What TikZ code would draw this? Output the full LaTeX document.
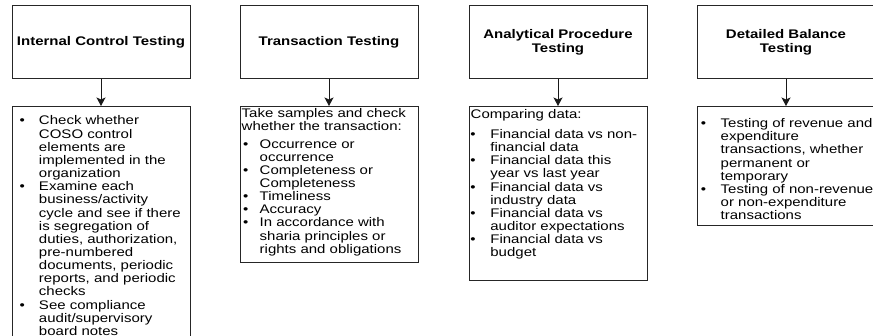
\documentclass[tikz,border=0pt]{standalone}
\usepackage{fontspec}
\setmainfont{Liberation Sans}[FakeStretch=1.2]
\usepackage{enumitem}
\usetikzlibrary{arrows.meta}

\setlist[itemize]{label={\textbullet}, topsep=0pt, partopsep=0pt, itemsep=0pt, parsep=0pt}

\tikzset{
    headbox/.style={draw=black!85, line width=1pt, minimum width=178pt, minimum height=73pt,
        anchor=north, align=center, font=\fontsize{12.5}{14.3}\selectfont\bfseries},
    bodybox/.style={draw=black!85, line width=1pt, minimum width=178pt, anchor=north},
    bodytext/.style={anchor=north west, inner sep=0pt, text width=300pt, align=left,
        font=\fontsize{12.5}{13.15}\selectfont},
    arrowline/.style={draw=black!90, line width=1pt, -{Stealth[length=8.5pt,width=9pt,inset=2pt]}}
}

\begin{document}
\begin{tikzpicture}[x=1pt,y=-1pt]
    \useasboundingbox (0,0) rectangle (873,335);
    \clip (0,0) rectangle (873,335);

    % top boxes
    \node[headbox] (ict-head) at (101,5) {Internal Control Testing};
    \node[headbox] (tt-head) at (329,5) {Transaction Testing};
    \node[headbox] (apt-head) at (558,5) {Analytical Procedure\\Testing};
    \node[headbox] (dbt-head) at (786,5) {Detailed Balance\\Testing};

    % lower boxes
    \node[bodybox, minimum height=250pt] (ict-body) at (101,106) {};
    \node[bodybox, minimum height=156pt] (tt-body) at (329,106) {};
    \node[bodybox, minimum height=174pt] (apt-body) at (558,106) {};
    \node[bodybox, minimum height=119pt] (dbt-body) at (786,106) {};

    \foreach \name in {ict,tt,apt,dbt}{
        \draw[arrowline] (\name-head.south) -- (\name-body.north);
    }

    % texts of the lower boxes
    \node[bodytext] (ict-text) at ([xshift=2pt,yshift=-5.6pt]ict-body.north west) {%
        \begin{itemize}[leftmargin=25.3pt, labelsep=14.1pt]
            \item Check whether\newline COSO control\newline elements are\newline implemented in the\newline organization
            \item Examine each\newline business/activity\newline cycle and see if there\newline is segregation of\newline duties, authorization,\newline pre-numbered\newline documents, periodic\newline reports, and periodic\newline checks
            \item See compliance\newline audit/supervisory\newline board notes
        \end{itemize}};
    \node[bodytext] (tt-text) at ([xshift=2pt,yshift=-2.2pt]tt-body.north west) {%
        Take samples and check\newline whether the transaction:
        \begin{itemize}[leftmargin=18pt, labelsep=11.4pt, topsep=4.3pt]
            \item Occurrence or\newline occurrence
            \item Completeness or\newline Completeness
            \item Timeliness
            \item Accuracy
            \item In accordance with\newline sharia principles or\newline rights and obligations
        \end{itemize}};
    \node[bodytext] (apt-text) at ([xshift=2pt,yshift=-3.2pt]apt-body.north west) {%
        Comparing data:
        \begin{itemize}[leftmargin=19.7pt, labelsep=14.8pt, topsep=6.9pt]
            \item Financial data vs non-\newline financial data
            \item Financial data this\newline year vs last year
            \item Financial data vs\newline industry data
            \item Financial data vs\newline auditor expectations
            \item Financial data vs\newline budget
        \end{itemize}};
    \node[bodytext] (dbt-text) at ([xshift=2pt,yshift=-8.2pt]dbt-body.north west) {%
        \begin{itemize}[leftmargin=22pt, labelsep=14.7pt]
            \item Testing of revenue and\newline expenditure\newline transactions, whether\newline permanent or\newline temporary
            \item Testing of non-revenue\newline or non-expenditure\newline transactions
        \end{itemize}};
\end{tikzpicture}
\end{document}
